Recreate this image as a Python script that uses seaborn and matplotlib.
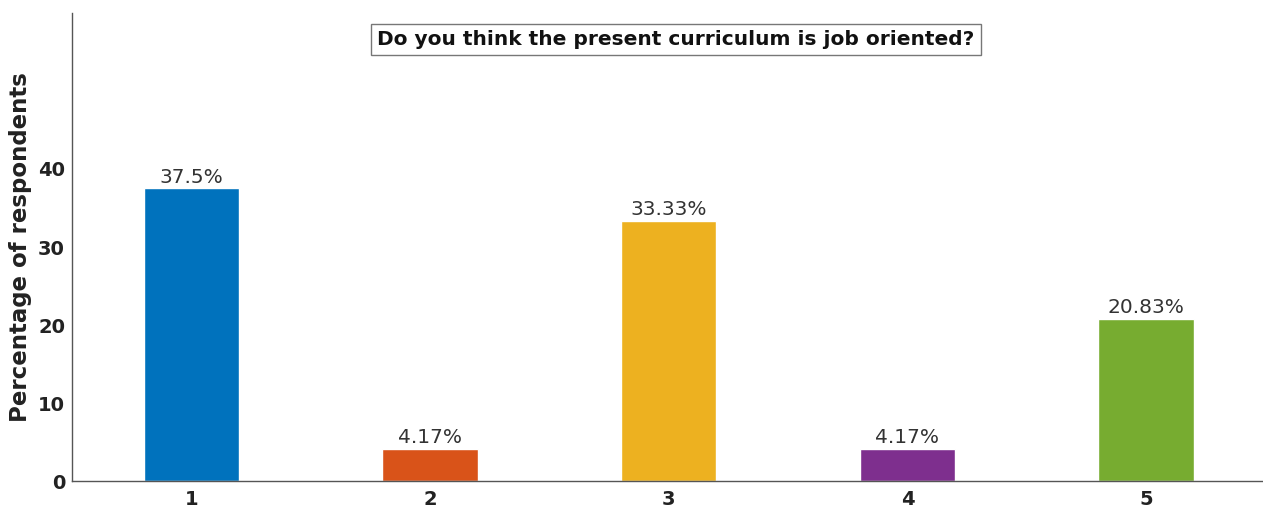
"""Bar chart: share of respondents per answer to the curriculum question."""
import matplotlib
matplotlib.use("Agg")
import matplotlib.pyplot as plt
import pandas as pd
import seaborn as sns

# Data
categories = ["1", "2", "3", "4", "5"]
percentages = [37.5, 4.17, 33.33, 4.17, 20.83]
value_labels = ["37.5%", "4.17%", "33.33%", "4.17%", "20.83%"]
y_ticks = [0, 10, 20, 30, 40]

# MATLAB default colour order
colors = ["#0072BD", "#D95319", "#EDB120", "#7E2F8E", "#77AC30"]

df = pd.DataFrame({"answer": categories, "pct": percentages})

sns.set_style("white")
plt.rcParams["font.family"] = ["DejaVu Sans"]

fig = plt.figure(figsize=(12.63, 5.13), dpi=100)
ax = fig.add_axes([0.057, 0.062, 0.945, 0.913])

sns.barplot(data=df, x="answer", y="pct", hue="answer", palette=colors,
            width=0.4, legend=False, ax=ax, saturation=1)

for bar, lab in zip(ax.patches, value_labels):
    ax.text(bar.get_x() + bar.get_width() / 2, bar.get_height() + 0.2, lab,
            ha="center", va="bottom", fontsize=14.5, color="#333333")

ax.set_ylim(0, 60)
ax.set_xlim(-0.5, 4.5)
ax.set_yticks(y_ticks)
ax.tick_params(axis="y", direction="in", length=6, width=0.8, color="#777777",
               labelsize=14, pad=5)
ax.tick_params(axis="x", direction="in", length=6, width=0.8, color="#777777",
               labelsize=14, pad=6)
for lbl in ax.get_xticklabels() + ax.get_yticklabels():
    lbl.set_fontweight("bold")
    lbl.set_color("#222222")

ax.set_xlabel("")
ax.set_ylabel("Percentage of respondents", fontsize=16.5, fontweight="bold",
              color="#222222", labelpad=4)

sns.despine(ax=ax, top=True, right=True)
for side in ("left", "bottom"):
    ax.spines[side].set_color("#555555")
    ax.spines[side].set_linewidth(1.0)

ax.text(0.506, 0.943, "Do you think the present curriculum is job oriented?",
        transform=ax.transAxes, ha="center", va="center", fontsize=14.5,
        fontweight="bold", color="#111111",
        bbox=dict(boxstyle="square,pad=0.3", facecolor="white",
                  edgecolor="#777777", linewidth=1.0))

fig.savefig("out.png", dpi=100)
